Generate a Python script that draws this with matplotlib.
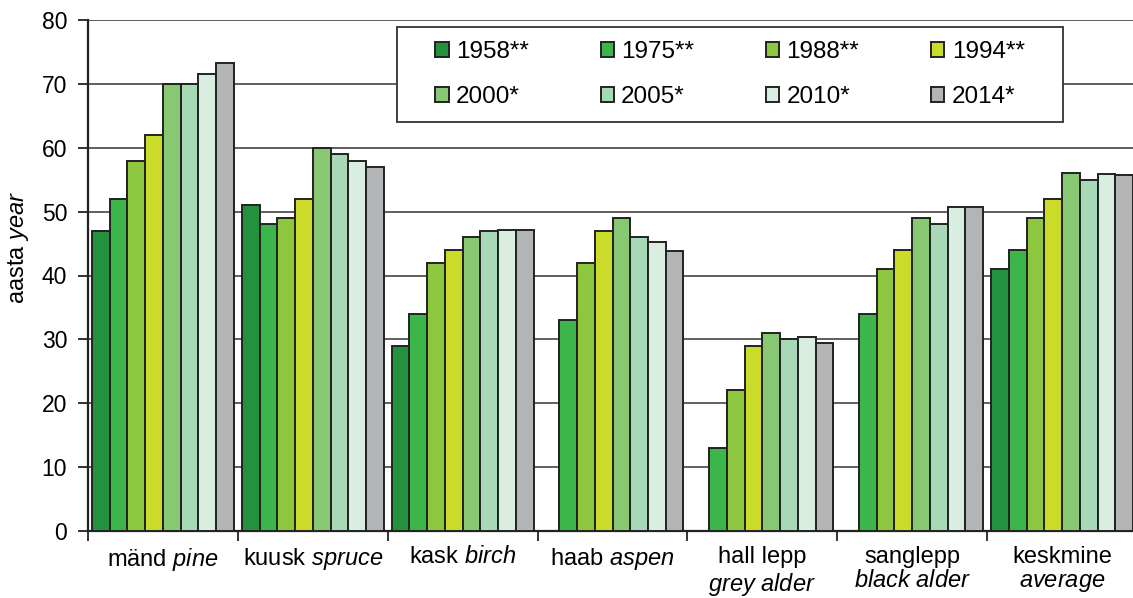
import numpy as np
import matplotlib.pyplot as plt
from matplotlib.patches import Rectangle

plt.rcParams['font.family'] = ['Liberation Sans', 'DejaVu Sans']
plt.rcParams['mathtext.fontset'] = 'custom'
plt.rcParams['mathtext.rm'] = 'Liberation Sans'
plt.rcParams['mathtext.it'] = 'Liberation Sans:italic'

# tree species (Estonian name + English name in italics)
species = ['mänd $\\it{pine}$',
           'kuusk $\\it{spruce}$',
           'kask $\\it{birch}$',
           'haab $\\it{aspen}$',
           'hall lepp\n$\\it{grey\\ alder}$',
           'sanglepp\n$\\it{black\\ alder}$',
           'keskmine\n$\\it{average}$']

years = ['1958**', '1975**', '1988**', '1994**', '2000*', '2005*', '2010*', '2014*']
colors = ['#23913d', '#3cb54a', '#8dc63f', '#cadb2a', '#88c872', '#a8d9b7', '#d9ede0', '#b3b4b6']

# mean age, one list per inventory year (nan = no bar)
age_1958 = [47, 51, 29, np.nan, np.nan, np.nan, 41]
age_1975 = [52, 48, 34, 33, 13, 34, 44]
age_1988 = [58, 49, 42, 42, 22, 41, 49]
age_1994 = [62, 52, 44, 47, 29, 44, 52]
age_2000 = [70, 60, 46, 49, 31, 49, 56]
age_2005 = [70, 59, 47, 46, 30, 48, 55]
age_2010 = [71.6, 58, 47.2, 45.2, 30.3, 50.7, 55.9]
age_2014 = [73.2, 57, 47.1, 43.9, 29.4, 50.8, 55.8]
series = [age_1958, age_1975, age_1988, age_1994, age_2000, age_2005, age_2010, age_2014]

W, H = 1133, 598
fig = plt.figure(figsize=(W / 100, H / 100), dpi=100)
ax = fig.add_axes([88 / W, 67 / H, 1049 / W, 511 / H])

x = np.arange(len(species))
n = len(series)
width = 0.947 / n
bars = []
for i, (vals, col, lab) in enumerate(zip(series, colors, years)):
    offs = -0.947 / 2 + (i + 0.5) * width
    b = ax.bar(x + offs, vals, width, color=col, edgecolor='#222222',
               linewidth=1.4, label=lab, zorder=3)
    bars.append(b)

ax.set_xlim(-0.5, len(species) - 0.5)
ax.set_ylim(0, 80)
ax.set_yticks(np.arange(0, 81, 10))
ax.yaxis.grid(True, color='#333333', linewidth=1.1, zorder=0)
ax.set_axisbelow(True)

ax.set_xticks(np.arange(len(species) + 1) - 0.5)
ax.set_xticklabels([])
ax.set_xticks(x, minor=True)
ax.set_xticklabels(species, minor=True, linespacing=1.12)
ax.tick_params(axis='x', which='minor', length=0, pad=11, labelsize=17)
ax.tick_params(axis='x', which='major', length=7, width=1.3, color='#222222')
ax.tick_params(axis='y', length=7, width=1.3, color='#222222', pad=8, labelsize=16.5)

for s in ['top', 'right']:
    ax.spines[s].set_visible(False)
for s in ['left', 'bottom']:
    ax.spines[s].set_color('#222222')
    ax.spines[s].set_linewidth(1.6)

ax.set_ylabel('aasta $\\it{year}$', fontsize=17)
ax.yaxis.set_label_coords(-0.054, 0.555)

# legend box with white fill, drawn above the grid
box = Rectangle((397 / W, 1 - 122 / H), 666 / W, 95 / H, transform=fig.transFigure,
                facecolor='white', edgecolor='#333333', linewidth=1.3, zorder=5)
fig.patches.append(box)

order = [0, 4, 1, 5, 2, 6, 3, 7]
leg = fig.legend([bars[k] for k in order], [years[k] for k in order], ncol=4,
                 loc='center', bbox_to_anchor=(730 / W, 1 - 74.5 / H),
                 frameon=False, fontsize=17.5, handlelength=0.55, handleheight=0.55,
                 handletextpad=0.3, columnspacing=2.95, labelspacing=0.95,
                 borderpad=0, borderaxespad=0)
leg.set_zorder(6)

fig.savefig('out.png', dpi=100)
